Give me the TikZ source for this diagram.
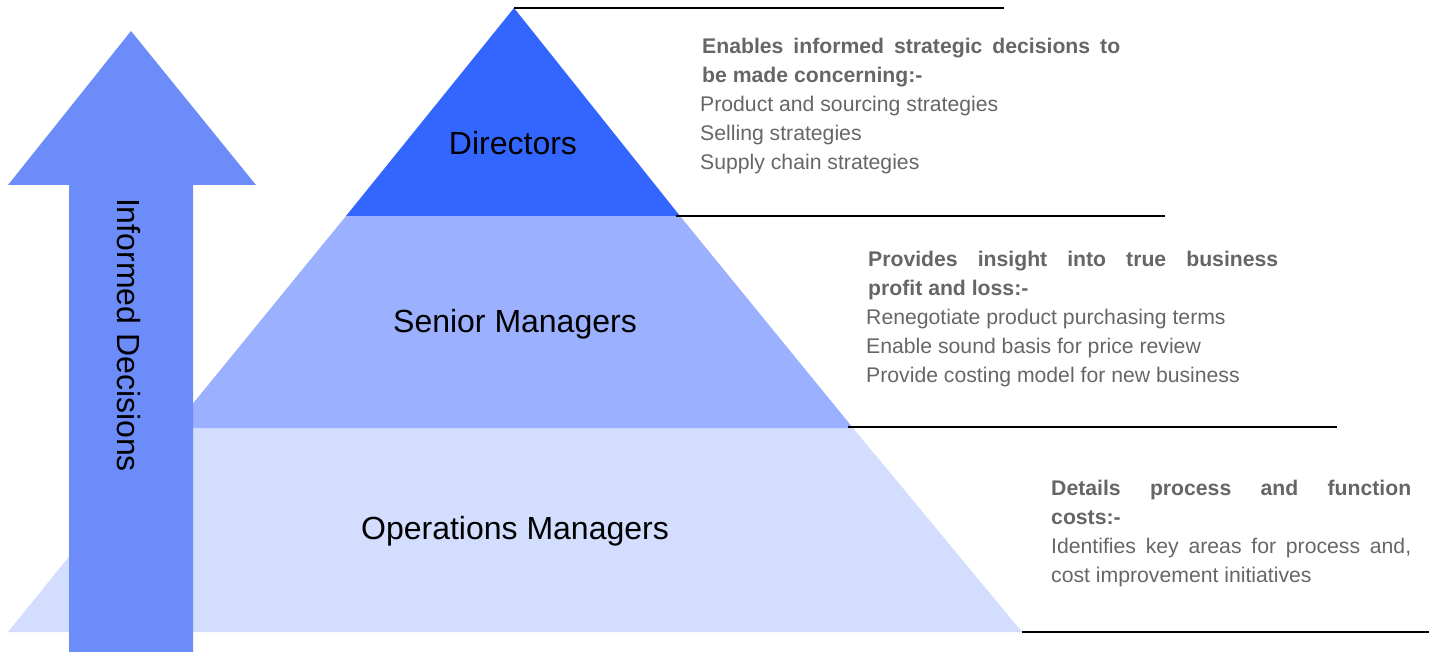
\documentclass[tikz,border=0pt]{standalone}
\usepackage{fontspec}
\setmainfont{Liberation Sans}
\begin{document}
\definecolor{dirblue}{HTML}{3366FF}
\definecolor{senblue}{HTML}{9BB0FF}
\definecolor{opsblue}{HTML}{D3DEFF}
\definecolor{arrowblue}{HTML}{6C8CFA}
\definecolor{notegray}{HTML}{666666}
\begin{tikzpicture}[x=1pt,y=-1pt,
  tierlabel/.style={font=\fontsize{32}{38}\selectfont, text=black, inner sep=0pt},
  rule/.style={line width=2pt, black},
  note/.style={font=\fontsize{21.2}{29}\selectfont, text=notegray, align=left, inner sep=0pt, anchor=base west},
]
\useasboundingbox (0,0) rectangle (1429,652);

% pyramid corner points
\coordinate (apex) at (514,8);
\coordinate (dl) at (346,216);  \coordinate (dr) at (680,216);
\coordinate (sl) at (173,428);  \coordinate (sr) at (853,428);
\coordinate (ol) at (8,632);    \coordinate (or) at (1022,632);

% tiers
\fill[opsblue] (sl) -- (sr) -- (or) -- (ol) -- cycle;
\fill[senblue] (dl) -- (dr) -- (sr) -- (sl) -- cycle;
\fill[dirblue] (apex) -- (dr) -- (dl) -- cycle;

% rules to the right of each tier
\coordinate (r1) at (1004,8);
\coordinate (r2a) at (676,216);  \coordinate (r2) at (1165,216);
\coordinate (r3a) at (848,427);  \coordinate (r3) at (1337,427);
\coordinate (r4) at (1429,632);
\draw[rule] (apex) -- (r1);
\draw[rule] (r2a) -- (r2);
\draw[rule] (r3a) -- (r3);
\draw[rule] (or) -- (r4);

% upward arrow
\fill[arrowblue] (131,31) -- (256,185) -- (193,185) -- (193,652) -- (69,652) -- (69,185) -- (8,185) -- cycle;
\node[font=\fontsize{32}{38}\selectfont, rotate=-90, inner sep=0pt] (informed) at (129,335) {Informed Decisions};

% tier labels
\node[tierlabel] (directors) at (513,143) {Directors};
\node[tierlabel] (senior) at (515,324) {Senior Managers};
\node[tierlabel] (operations) at (515,531) {Operations Managers};

% notes (placed by the baseline of their last line)
\node[note] (note1) at (700,170) {%
  \hspace{2pt}\textbf{\makebox[418pt][s]{Enables informed strategic decisions to}}\\
  \hspace{2pt}\textbf{be made concerning:-}\\
  Product and sourcing strategies\\
  Selling strategies\\
  Supply chain strategies};
\node[note] (note2) at (866,382) {%
  \hspace{2pt}\textbf{\makebox[410pt][s]{Provides insight into true business}}\\
  \hspace{2pt}\textbf{profit and loss:-}\\
  Renegotiate product purchasing terms\\
  Enable sound basis for price review\\
  Provide costing model for new business};
\node[note] (note3) at (1051,582) {%
  \textbf{\makebox[360pt][s]{Details process and function}}\\
  \textbf{costs:-}\\
  \makebox[360pt][s]{Identifies key areas for process and,}\\
  cost improvement initiatives};
\end{tikzpicture}
\end{document}
